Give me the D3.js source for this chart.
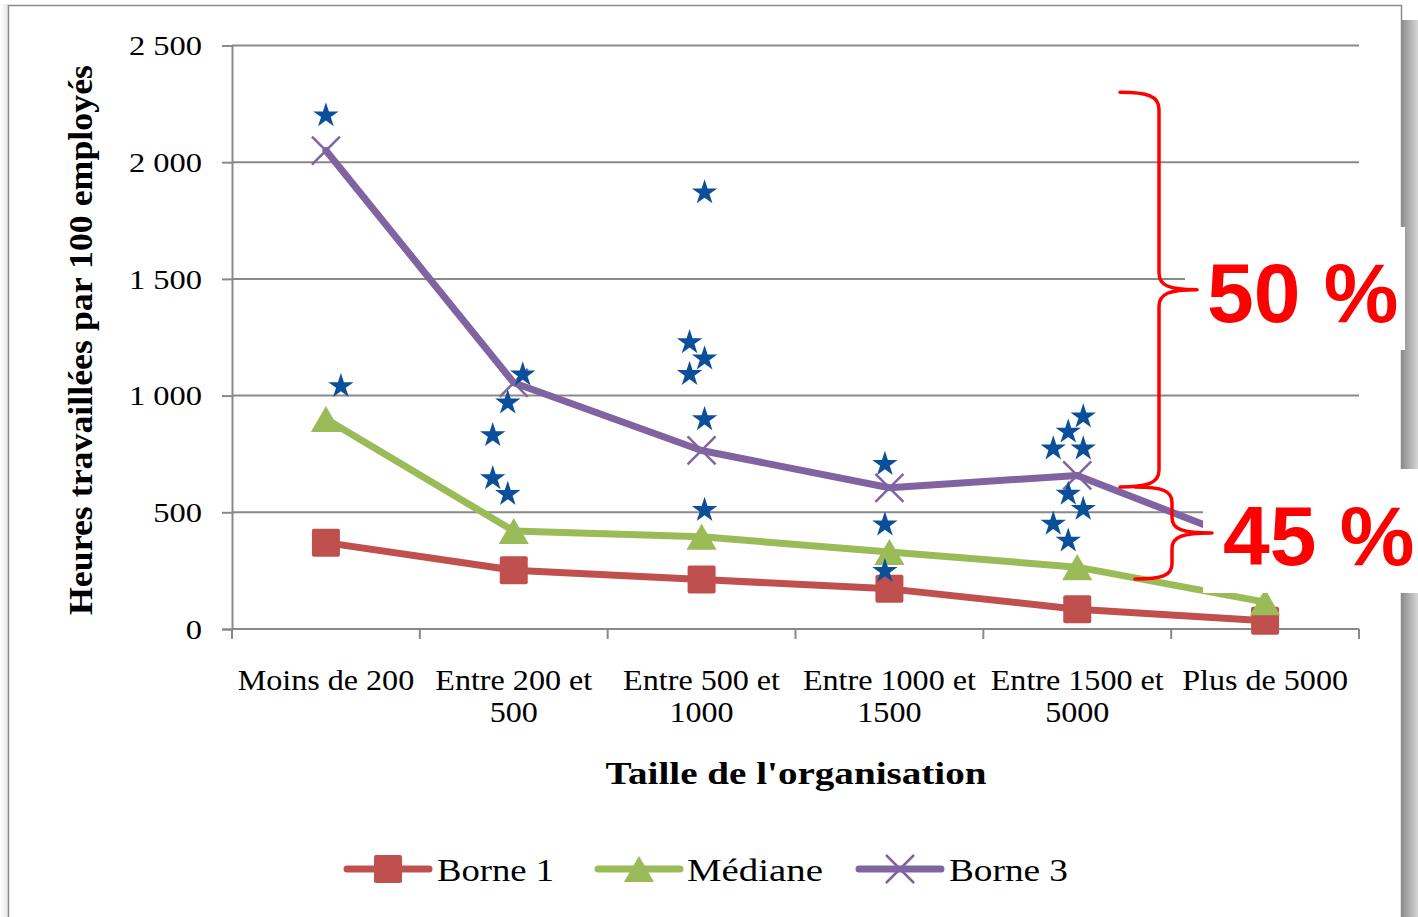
<!DOCTYPE html>
<html><head><meta charset="utf-8">
<script src="https://cdn.jsdelivr.net/npm/d3@7"></script>
<style>html,body{margin:0;padding:0;background:#fff;overflow:hidden}</style>
</head><body>
<svg id="chart" width="1418" height="917"></svg>
<script>
// ---------- DATA ----------
const categories = ["Moins de 200", "Entre 200 et 500", "Entre 500 et 1000", "Entre 1000 et 1500", "Entre 1500 et 5000", "Plus de 5000"];
const categoryLines = [["Moins de 200"], ["Entre 200 et", "500"], ["Entre 500 et", "1000"], ["Entre 1000 et", "1500"], ["Entre 1500 et", "5000"], ["Plus de 5000"]];
const borne1 = [370, 252, 212, 172, 85, 35];
const mediane = [900, 420, 395, 330, 265, 115];
const borne3 = [2050, 1055, 765, 605, 658, 345];
const seriesNames = ["Borne 1", "Médiane", "Borne 3"];
const yTicks = [0, 500, 1000, 1500, 2000, 2500];
// individual organisations (star markers): category index, small column jitter, value
const starCategory = [0, 0, 1, 1, 1, 1, 1, 2, 2, 2, 2, 2, 2, 3, 3, 3, 4, 4, 4, 4, 4, 4, 4, 4];
const starColumn   = [0, 1, 0.6, -0.4, -1.4, -1.4, -0.4, 0.2, -0.8, 0.2, -0.8, 0.2, 0.2, -0.3, -0.3, -0.3, 0.4, -0.6, -1.6, 0.4, -0.6, 0.4, -1.6, -0.6];
const starValue    = [2200, 1040, 1090, 970, 830, 645, 578, 1870, 1228, 1158, 1092, 898, 509, 706, 447, 248, 910, 845, 773, 773, 579, 514, 450, 378];
const braceTop    = [2300, 608];
const braceBottom = [608, 214];
const braceLabels = ["50 %", "45 %"];
const yTitle = "Heures travaillées par 100 employés";
const xTitle = "Taille de l'organisation";

// ---------- SETUP ----------
const svg = d3.select("#chart");
const serif = "'Liberation Serif','Times New Roman',serif";
const sans = "'Liberation Sans',Arial,sans-serif";
const colors = ["#C0504D", "#9BBB59", "#8064A2"];
const starColor = "#0B4F9A";
const gridColor = "#898989";

const x = d3.scaleBand().domain(categories).range([232, 1359]).paddingInner(0).paddingOuter(0);
const y = d3.scaleLinear().domain([0, 2500]).range([629, 45.5]);
const cx = c => x(c) + x.bandwidth() / 2;
const jitter = d3.scaleLinear().domain([0, 1]).range([0, 15]);

// stretch glyphs horizontally like the original rendering
function stretch(sel, k) {
  sel.each(function () {
    const w = this.getComputedTextLength();
    if (w > 0) d3.select(this).attr("textLength", w * k).attr("lengthAdjust", "spacingAndGlyphs");
  });
}

// ---------- FRAME ----------
const defs = svg.append("defs");
const g1 = defs.append("linearGradient").attr("id", "shadowR").attr("x1", 0).attr("x2", 1).attr("y1", 0).attr("y2", 0);
g1.append("stop").attr("offset", 0).attr("stop-color", "#8e8e8e");
g1.append("stop").attr("offset", 1).attr("stop-color", "#d6d6d6");
const g2 = defs.append("linearGradient").attr("id", "shadowL").attr("x1", 0).attr("x2", 1);
g2.append("stop").attr("offset", 0).attr("stop-color", "#ffffff");
g2.append("stop").attr("offset", 1).attr("stop-color", "#e6e6e6");

svg.append("rect").attr("x", 0).attr("y", 0).attr("width", 1418).attr("height", 917).attr("fill", "#fff");
svg.append("rect").attr("x", 0).attr("y", 4).attr("width", 8).attr("height", 913).attr("fill", "url(#shadowL)");
svg.append("rect").attr("x", 1402).attr("y", 20).attr("width", 16).attr("height", 897).attr("fill", "url(#shadowR)");
svg.append("rect").attr("x", 8.5).attr("y", 5.5).attr("width", 1393).attr("height", 960)
  .attr("fill", "#fff").attr("stroke", "#8c8c8c").attr("stroke-width", 1.5);

// ---------- GRID & AXES ----------
svg.append("g").selectAll("line").data(yTicks.filter(d => d > 0)).join("line")
  .attr("x1", 232).attr("x2", 1359).attr("y1", d => y(d)).attr("y2", d => y(d))
  .attr("stroke", gridColor).attr("stroke-width", 2);

const fr = d3.formatLocale({decimal: ",", thousands: " ", grouping: [3], currency: ["", " €"]});
const yAxis = d3.axisLeft(y).tickValues(yTicks).tickSize(10).tickPadding(20).tickFormat(fr.format(","));
const ya = svg.append("g").attr("transform", "translate(232,0)").call(yAxis);
ya.select(".domain").attr("stroke", gridColor).attr("stroke-width", 2);
ya.selectAll(".tick line").attr("stroke", gridColor).attr("stroke-width", 2);
ya.selectAll(".tick text").attr("font-family", serif).attr("font-size", 28).attr("fill", "#000")
  .attr("dy", "0.33em");
stretch(ya.selectAll(".tick text"), 1.16);

// x axis line and ticks
svg.append("line").attr("x1", 232).attr("x2", 1359).attr("y1", y(0)).attr("y2", y(0))
  .attr("stroke", gridColor).attr("stroke-width", 2);
const boundaries = categories.map(c => x(c)).concat([x.range()[1]]);
svg.append("g").selectAll("line").data(boundaries).join("line")
  .attr("x1", d => d).attr("x2", d => d).attr("y1", y(0)).attr("y2", y(0) + 10)
  .attr("stroke", gridColor).attr("stroke-width", 2);

// category labels
const catG = svg.append("g");
categories.forEach((c, i) => {
  categoryLines[i].forEach((ln, j) => {
    catG.append("text").attr("x", cx(c)).attr("y", 690 + j * 32)
      .attr("text-anchor", "middle").attr("font-family", serif).attr("font-size", 30)
      .attr("fill", "#000").text(ln);
  });
});
stretch(catG.selectAll("text"), 1.07);

// axis titles
svg.append("text").attr("x", 796).attr("y", 784).attr("text-anchor", "middle")
  .attr("font-family", serif).attr("font-weight", "bold").attr("font-size", 31)
  .attr("textLength", 381).attr("lengthAdjust", "spacingAndGlyphs").attr("fill", "#000").text(xTitle);
svg.append("text").attr("transform", "translate(92,340) rotate(-90)").attr("text-anchor", "middle")
  .attr("font-family", serif).attr("font-weight", "bold").attr("font-size", 34)
  .attr("textLength", 550).attr("lengthAdjust", "spacingAndGlyphs").attr("fill", "#000").text(yTitle);

// ---------- MARKERS ----------
const triType = { draw(ctx, size) { const h = Math.sqrt(size); ctx.moveTo(0, -h * 0.45); ctx.lineTo(h * 0.52, h * 0.45); ctx.lineTo(-h * 0.52, h * 0.45); ctx.closePath(); } };
function drawMarker(g, kind, px, py, color) {
  if (kind === 0) {
    g.append("rect").attr("x", px - 14).attr("y", py - 14).attr("width", 28).attr("height", 28)
      .attr("rx", 2).attr("fill", color);
  } else if (kind === 1) {
    g.append("path").attr("transform", `translate(${px},${py})`)
      .attr("d", d3.symbol().type(triType).size(841)()).attr("fill", color);
  } else {
    g.append("path").attr("d", `M${px - 14},${py - 14}L${px + 14},${py + 14}M${px - 14},${py + 14}L${px + 14},${py - 14}`)
      .attr("stroke", color).attr("stroke-width", 2.5).attr("fill", "none");
  }
}

const allSeries = [borne1, mediane, borne3];
const line = d3.line().x((d, i) => cx(categories[i])).y(d => y(d));
const seriesG = svg.append("g");
allSeries.forEach((vals, s) => {
  seriesG.append("path").attr("d", line(vals)).attr("fill", "none").attr("stroke", colors[s])
    .attr("stroke-width", 7).attr("stroke-linejoin", "round").attr("stroke-linecap", "round");
});
allSeries.forEach((vals, s) => {
  vals.forEach((v, i) => drawMarker(seriesG, s, cx(categories[i]), y(v), colors[s]));
});

// stars
const star = d3.symbol().type(d3.symbolStar).size(200);
svg.append("g").selectAll("path").data(starValue).join("path")
  .attr("transform", (v, i) => `translate(${cx(categories[starCategory[i]]) + jitter(starColumn[i])},${y(v)})`)
  .attr("d", star()).attr("fill", starColor);

// ---------- ANNOTATIONS (braces) ----------
const annG = svg.append("g");
const xEnd = x.range()[1];
const braceCfg = [
  {xs: xEnd - 239, xv: xEnd - 200, xt: xEnd - 162, boxX: xEnd - 174, boxW: 220, boxTop: 227, boxBot: 350, tx: 1207},
  {xs: xEnd - 224, xv: xEnd - 187, xt: xEnd - 147, boxX: xEnd - 156, boxW: 215, boxTop: 469, boxBot: 593, tx: 1223}
];
braceLabels.forEach((lab, i) => {
  const c = braceCfg[i];
  annG.append("rect").attr("x", c.boxX).attr("y", c.boxTop).attr("width", c.boxW).attr("height", c.boxBot - c.boxTop).attr("fill", "#fff");
});
braceLabels.forEach((lab, i) => {
  const c = braceCfg[i];
  const t = y(braceTop[i]), b = y(braceBottom[i]), m = (t + b) / 2;
  const r = Math.min(17, (b - t) / 6);
  const p = d3.path();
  p.moveTo(c.xs, t);
  p.bezierCurveTo(c.xs + 28, t, c.xv, t + 4, c.xv, t + r);
  p.lineTo(c.xv, m - r);
  p.bezierCurveTo(c.xv, m - 4, c.xv + 10, m, c.xt, m);
  p.bezierCurveTo(c.xv + 10, m, c.xv, m + 4, c.xv, m + r);
  p.lineTo(c.xv, b - r);
  p.bezierCurveTo(c.xv, b - 4, c.xs + 28, b, c.xs, b);
  annG.append("path").attr("d", p.toString()).attr("fill", "none").attr("stroke", "#FF0000")
    .attr("stroke-width", 3.5).attr("stroke-linecap", "round").attr("stroke-linejoin", "round");
  annG.append("text").attr("x", c.tx).attr("y", m + 32).attr("font-family", sans).attr("font-weight", "bold")
    .attr("font-size", 84).attr("fill", "#FF0000").text(lab);
});

// ---------- LEGEND ----------
const legend = svg.append("g").attr("transform", "translate(0,869)");
const legX = [347, 598, 859];
const legTextX = [437, 687, 949];
const legTextW = [117, 136, 119];
seriesNames.forEach((name, s) => {
  legend.append("line").attr("x1", legX[s]).attr("x2", legX[s] + 82).attr("y1", 0).attr("y2", 0)
    .attr("stroke", colors[s]).attr("stroke-width", 7).attr("stroke-linecap", "round");
  drawMarker(legend, s, legX[s] + 41, 0, colors[s]);
  legend.append("text").attr("x", legTextX[s]).attr("y", 12).attr("font-family", serif).attr("font-size", 32)
    .attr("textLength", legTextW[s]).attr("lengthAdjust", "spacingAndGlyphs").attr("fill", "#000").text(name);
});
</script>
</body></html>
